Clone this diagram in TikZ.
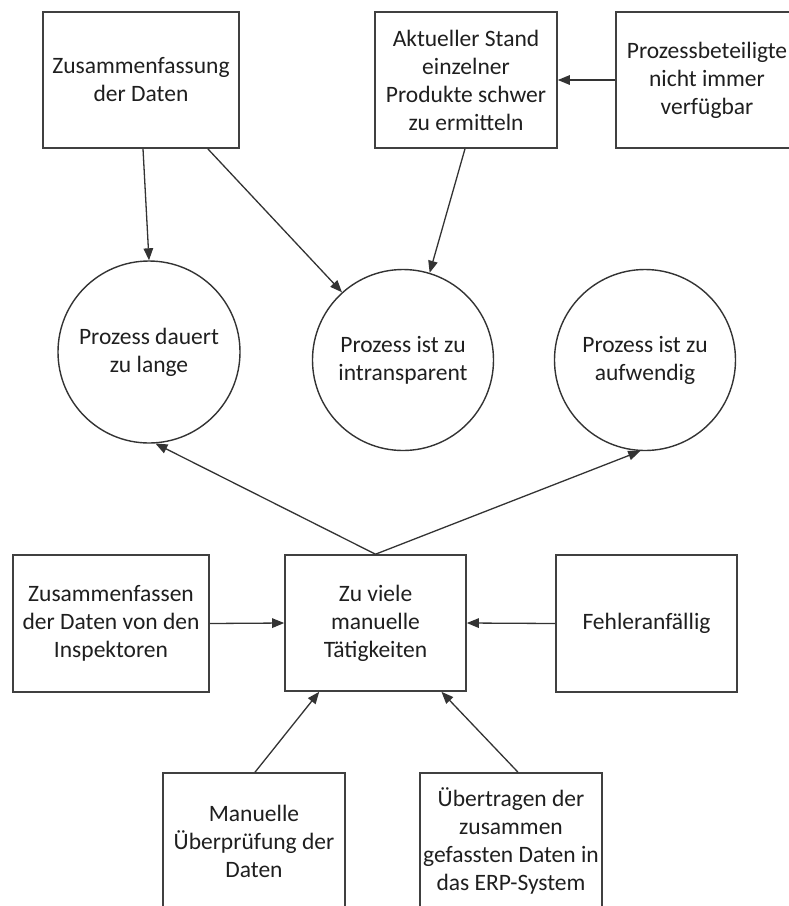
\documentclass[tikz,border=0pt]{standalone}
\usepackage{fontspec}
\setmainfont{Carlito}
\usetikzlibrary{arrows.meta}
\begin{document}
\begin{tikzpicture}[x=1pt,y=-1pt,
  box/.style={draw=black!75,line width=1.6pt,fill=white,align=center,inner sep=0pt,
    minimum width=182pt,minimum height=136pt,font=\fontsize{23.5}{28}\selectfont,text=black!88},
  bubble/.style={draw=black!80,line width=1.4pt,circle,align=center,inner sep=0pt,
    minimum size=181pt,font=\fontsize{23.5}{28}\selectfont,text=black!88},
  arr/.style={draw=black!80,line width=1.3pt,-{Triangle[length=12pt,width=9.5pt]}}]
\useasboundingbox (0,0) rectangle (789,906);
\begin{scope}
\clip (0,0) rectangle (789,906);
% top row
\node[box,minimum width=196pt] (sum) at (141,80) {Zusammenfassung\\der Daten};
\node[box] (stand) at (466,80) {Aktueller Stand\\einzelner\\Produkte schwer\\zu ermitteln};
\node[box] (beteil) at (707,80) {Prozessbeteiligte\\nicht immer\\verfügbar};
% problem circles
\node[bubble,minimum size=182pt] (lange) at (149,352) {Prozess dauert\\zu lange};
\node[bubble] (intr) at (403,360) {Prozess ist zu\\intransparent};
\node[bubble] (aufw) at (645,360) {Prozess ist zu\\aufwendig};
% middle row
\node[box,minimum width=196pt,minimum height=137pt] (insp) at (111,623.5) {Zusammenfassen\\der Daten von den\\Inspektoren};
\node[box,minimum width=181pt] (manuell) at (375.5,623) {Zu viele\\manuelle\\Tätigkeiten};
\node[box,minimum width=181pt,minimum height=137pt] (fehler) at (646.5,623.5) {Fehleranfällig};
% bottom row
\node[box] (pruef) at (254,841) {Manuelle\\Überprüfung der\\Daten};
\node[box] (erp) at (511,841) {Übertragen der\\zusammen\\gefassten Daten in\\das ERP-System};
\end{scope}
% connectors
\draw[arr] ([xshift=2pt]sum.south) -- (lange.north);
\draw[arr] ([xshift=-32pt]sum.south east) -- (intr.132);
\draw[arr] ([xshift=-1pt]stand.south) -- (intr.73);
\draw[arr] (beteil.west) -- (stand.east);
\draw[arr] (manuell.north) -- (lange.-86);
\draw[arr] (manuell.north) -- (aufw.-93);
\draw[arr] (insp.east) -- (manuell.west);
\draw[arr] (fehler.west) -- (manuell.east);
\draw[arr] ([xshift=1pt]pruef.north) -- ([xshift=35pt]manuell.south west);
\draw[arr] ([xshift=7pt]erp.north) -- ([xshift=66pt]manuell.south);
\end{tikzpicture}
\end{document}
